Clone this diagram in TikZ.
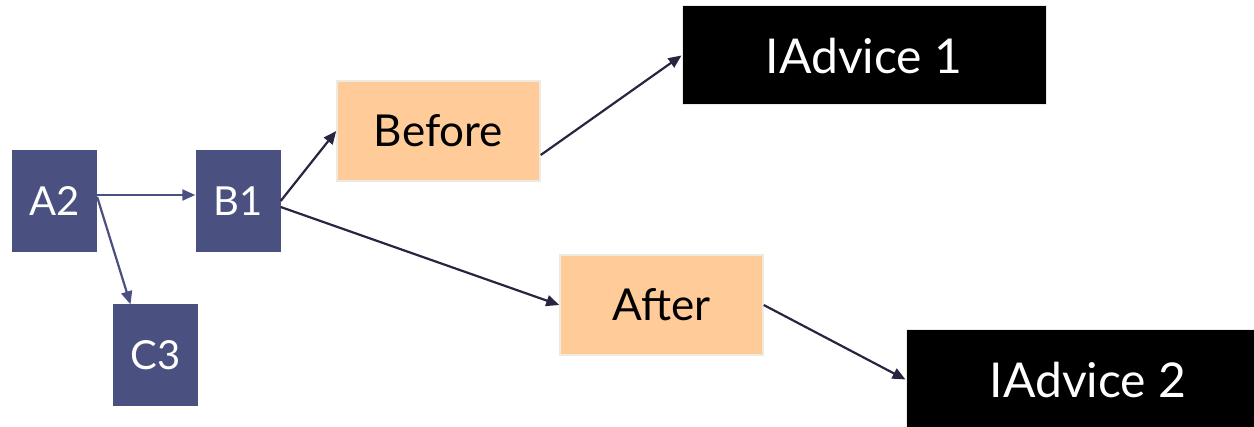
\documentclass[tikz,border=0pt]{standalone}
\usepackage{fontspec}
\setmainfont{Lato}
\usetikzlibrary{arrows.meta}
\definecolor{boxblue}{HTML}{4A5080}
\definecolor{boxorange}{HTML}{FFCC99}
\definecolor{edgebeige}{HTML}{EEEAE0}
\definecolor{arrowdark}{HTML}{2A2440}
\tikzset{
  bluebox/.style={fill=boxblue, draw=none, minimum width=85pt, minimum height=102pt, inner sep=0pt, text=white, font=\fontsize{40}{46}\selectfont},
  orangebox/.style={fill=boxorange, draw=edgebeige, line width=1.5pt, minimum width=203pt, minimum height=100pt, inner sep=0pt, text=black, font=\fontsize{44}{50}\selectfont},
  blackbox/.style={fill=black, draw=edgebeige, line width=1pt, minimum width=364pt, minimum height=99pt, inner sep=0pt, text=white, font=\fontsize{48}{56}\selectfont},
  bluearrow/.style={draw=boxblue, line width=2.2pt, -{Triangle[length=13pt,width=11pt]}},
  darkarrow/.style={draw=arrowdark, line width=2.2pt, -{Triangle[length=13pt,width=11pt]}}
}
\begin{document}
\begin{tikzpicture}[x=1pt,y=1pt]
\useasboundingbox (0,0) rectangle (1254,-427);
\begin{scope}
\clip (0,0) rectangle (1254,-427);
\node[bluebox] (A2) at (54.5,-201) {A2};
\node[bluebox] (B1) at (238,-201) {B1};
\node[bluebox] (C3) at (155.5,-355.5) {C3};
\node[orangebox] (before) at (438.5,-131) {Before};
\node[orangebox] (after) at (661.5,-305) {After};
\node[blackbox] (ia1) at (864,-55.5) {IAdvice 1};
\node[blackbox] (ia2) at (1088,-379.5) {IAdvice 2};
\end{scope}
\draw[bluearrow] ([yshift=6pt]A2.east) -- ([yshift=6pt]B1.west);
\draw[bluearrow] ([yshift=4pt]A2.east) -- ([xshift=-25pt]C3.north);
\draw[darkarrow] (B1.east) -- (before.west);
\draw[darkarrow] ([yshift=-6pt]B1.east) -- (after.west);
\draw[darkarrow] ([yshift=-24pt]before.east) -- (ia1.west);
\draw[darkarrow] (after.east) -- (ia2.west);
\end{tikzpicture}
\end{document}
